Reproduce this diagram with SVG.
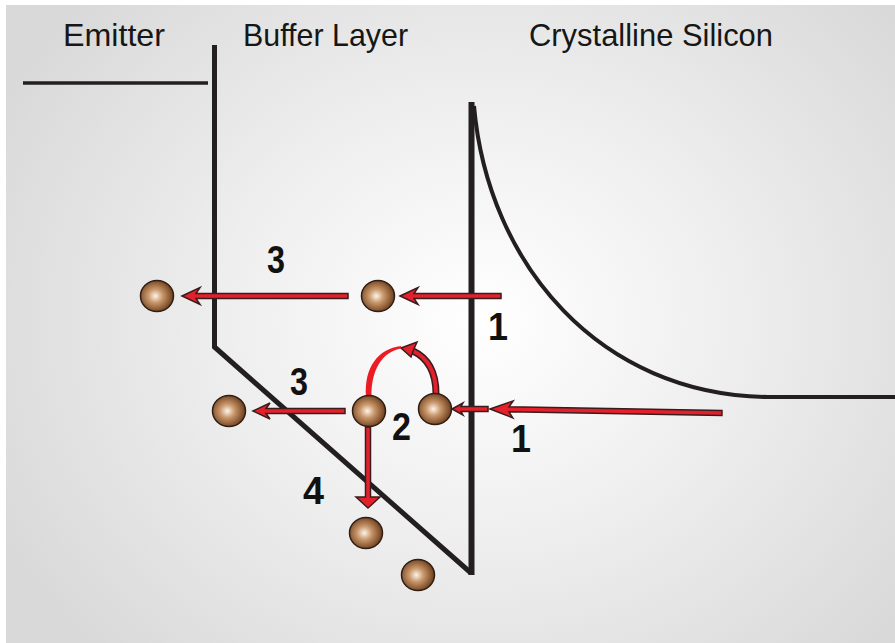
<svg xmlns="http://www.w3.org/2000/svg" width="895" height="643" viewBox="0 0 895 643">
<defs>
<radialGradient id="bg" gradientUnits="userSpaceOnUse" cx="480" cy="320" r="470" gradientTransform="translate(480 320) scale(1.15 1) translate(-480 -320)">
<stop offset="0" stop-color="#ffffff"/>
<stop offset="0.45" stop-color="#efefef"/>
<stop offset="1" stop-color="#d9d9d9"/>
</radialGradient>
<radialGradient id="ball" cx="0.45" cy="0.5" r="0.55">
<stop offset="0" stop-color="#fdf5ea"/>
<stop offset="0.4" stop-color="#c9976b"/>
<stop offset="1" stop-color="#6b3c1a"/>
</radialGradient>
<style>
.band{fill:none;stroke:#231f20;stroke-linecap:butt}
.arr{fill:#e3202b;stroke:#3b1c1c;stroke-width:1.5;stroke-linejoin:miter}
.ball{fill:url(#ball);stroke:#2e1e14;stroke-width:1.5}
.title{font-family:"Liberation Sans",Arial,sans-serif;font-size:32px;fill:#161616}
.num{font-family:"Liberation Sans",Arial,sans-serif;font-size:39px;font-weight:bold;fill:#111}
</style>
</defs>
<rect x="6" y="5" width="889" height="638" fill="url(#bg)"/>

<g id="bands">
<line class="band" x1="23" y1="83" x2="208" y2="83" stroke-width="3.5"/>
<polyline class="band" points="214.5,45 214.5,347 471,573" stroke-width="5"/>
<line class="band" x1="471.5" y1="102" x2="471.5" y2="575" stroke-width="6"/>
<path class="band" d="M474,106 C488,265 600,395 768,397 L895,397" stroke-width="4"/>
</g>

<g id="connectors">
<path class="arr" d="M400,296 L418,287.5 L414,293.5 L501,293.5 L501,298.5 L414,298.5 L418,304.5 Z"/>
<path class="arr" d="M182,296 L200,287.5 L196,293.5 L348,293.5 L348,298.5 L196,298.5 L200,304.5 Z"/>
<path class="arr" d="M253,411 L270,403 L266,408.5 L345,408.5 L345,413.5 L266,413.5 L270,419 Z"/>
<path class="arr" transform="translate(490 409) rotate(1)" d="M0,0 L23,-8.5 L19,-2.5 L232,-2.5 L232,2.5 L19,2.5 L23,8.5 Z"/>
<path class="arr" d="M452,409 L463,403 L461,406.5 L488,406.5 L488,411.5 L461,411.5 L463,415 Z"/>
<path class="arr" d="M365.5,427 L370.5,427 L370.5,497 L380,497 L368,508 L356,497 L365.5,497 Z"/>
<path d="M436,394 C436,372 428,358 413,351" fill="none" stroke="#3b1c1c" stroke-width="7"/>
<path d="M436,394 C436,372 428,358 413,351" fill="none" stroke="#e3202b" stroke-width="4"/>
<path class="arr" d="M401,348 L417,342 L413.5,350 L411,357 Z"/>
<path d="M366,397 C364,367 378,349 401,346 L401,348.5 C382,352 371,370 371.5,397 Z" fill="#ec1c24"/>
</g>

<g id="electrons">
<g id="e1"><ellipse class="ball" cx="157" cy="296" rx="16.5" ry="15.5"/></g>
<g id="e2"><ellipse class="ball" cx="378" cy="296" rx="16.5" ry="15.5"/></g>
<g id="e3"><ellipse class="ball" cx="229" cy="411" rx="16.5" ry="15.5"/></g>
<g id="e4"><ellipse class="ball" cx="369" cy="411" rx="16.5" ry="15.5"/></g>
<g id="e5"><ellipse class="ball" cx="435" cy="409" rx="16.5" ry="15.5"/></g>
<g id="e6"><ellipse class="ball" cx="366" cy="533" rx="16.5" ry="15.5"/></g>
<g id="e7"><ellipse class="ball" cx="418" cy="575" rx="16.5" ry="15.5"/></g>
</g>

<g id="titles">
<text class="title" x="63" y="46" textLength="102" lengthAdjust="spacingAndGlyphs">Emitter</text>
<text class="title" x="243" y="46" textLength="165" lengthAdjust="spacingAndGlyphs">Buffer Layer</text>
<text class="title" x="529" y="46" textLength="244" lengthAdjust="spacingAndGlyphs">Crystalline Silicon</text>
</g>

<g id="labels">
<text class="num" x="267" y="273" textLength="18" lengthAdjust="spacingAndGlyphs">3</text>
<text class="num" x="488" y="340" textLength="20" lengthAdjust="spacingAndGlyphs">1</text>
<text class="num" x="290" y="395" textLength="18" lengthAdjust="spacingAndGlyphs">3</text>
<text class="num" x="392" y="440" textLength="19" lengthAdjust="spacingAndGlyphs">2</text>
<text class="num" x="511" y="452" textLength="20" lengthAdjust="spacingAndGlyphs">1</text>
<text class="num" x="303" y="504" textLength="21" lengthAdjust="spacingAndGlyphs">4</text>
</g>
</svg>
